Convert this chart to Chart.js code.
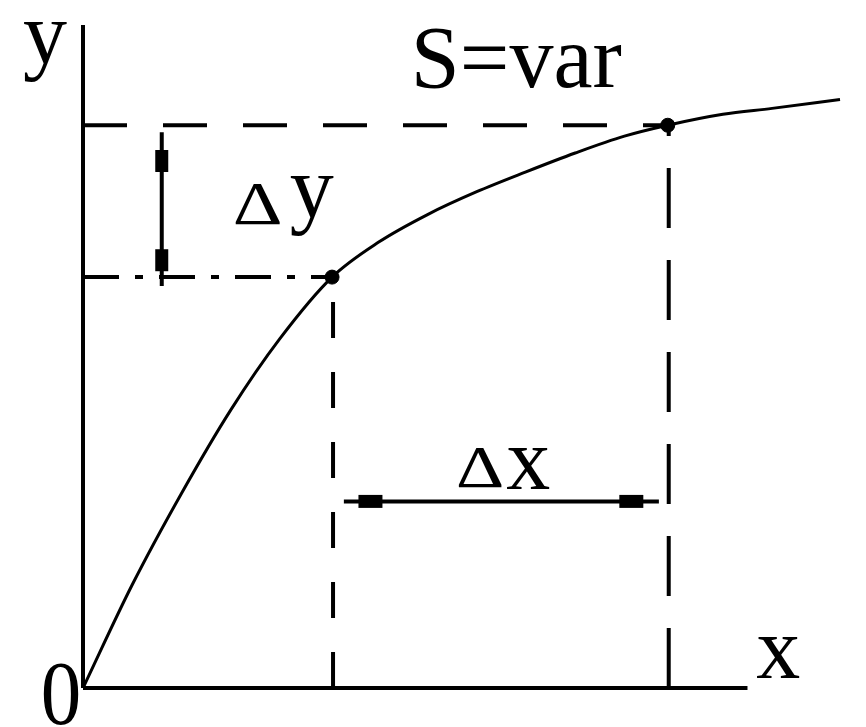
<!DOCTYPE html>
<html>
<head>
<meta charset="utf-8">
<script src="https://cdn.jsdelivr.net/npm/chart.js@4"></script>
<style>
  body { margin: 0; background: #fff; }
</style>
</head>
<body>
<canvas id="grafico" width="866" height="727"></canvas>
<script>
// Curva S=var
const curvaX = [0, 50, 100, 150, 200, 253, 300, 350, 400, 450, 500, 550, 594, 650, 700, 769];
const curvaY = [0, 104, 196, 280, 352, 414, 449, 477, 500, 520, 539, 556, 567, 578, 584, 593];

// Puntos marcados sobre la curva
const puntosX = [253, 594];
const puntosY = [414, 567];

// Ejes
const ejeXx = [0, 675];
const ejeXy = [0, 0];
const ejeYx = [0, 0];
const ejeYy = [0, 668];

// Líneas auxiliares
const guiaSupX = [0, 594];
const guiaSupY = [567, 567];
const guiaInfX = [0, 253];
const guiaInfY = [414, 414];
const guiaV1X = [254, 254];
const guiaV1Y = [0, 414];
const guiaV2X = [595, 595];
const guiaV2Y = [0, 567];

// Cotas Δy y Δx
const cotaYx = [80, 80];
const cotaYy = [560, 405];
const marcasYy = [531, 431];
const cotaXx = [265, 585];
const cotaXy = [188, 188];
const marcasXx = [292, 557];

// Textos
const textos = ['y', 'S=var', 'x', '0', 'Δ', 'y', 'Δ', 'x'];
const textosX = [-61, 333, 684, -43, 152, 210, 379, 430];
const textosY = [630, 606, 10, -36, 468, 475, 203, 201];
const textosT = [88, 88, 88, 90, 62, 88, 60, 88];
const textosE = [1, 1, 1, 0.9, 1.25, 1, 1.25, 1];

function puntos(xs, ys) {
    return xs.map((x, i) => ({ x: x, y: ys[i] }));
}

function linea(xs, ys, ancho, guiones) {
    return {
        data: puntos(xs, ys),
        showLine: true,
        borderColor: '#000',
        borderWidth: ancho,
        borderDash: guiones || [],
        pointRadius: 0,
        clip: false
    };
}

function marcas(xs, ys, giro, radio) {
    return {
        data: puntos(xs, ys),
        showLine: false,
        pointStyle: 'line',
        pointRotation: giro,
        pointRadius: radio,
        pointBorderWidth: 13,
        pointBorderColor: '#000',
        pointBackgroundColor: '#000',
        clip: false
    };
}

const curva = linea(curvaX, curvaY, 3);
curva.cubicInterpolationMode = 'monotone';

const puntosCurva = {
    data: puntos(puntosX, puntosY),
    showLine: false,
    pointRadius: 7,
    pointBackgroundColor: '#000',
    pointBorderColor: '#000',
    clip: false
};

// Fondo blanco y textos
const fondo = {
    id: 'fondo',
    beforeDraw(chart) {
        const c = chart.ctx;
        c.save();
        c.fillStyle = '#fff';
        c.fillRect(0, 0, chart.width, chart.height);
        c.restore();
    }
};

const rotulos = {
    id: 'rotulos',
    afterDatasetsDraw(chart) {
        const c = chart.ctx;
        const sx = chart.scales.x;
        const sy = chart.scales.y;
        c.save();
        c.fillStyle = '#000';
        c.textBaseline = 'alphabetic';
        c.textAlign = 'left';
        textos.forEach((t, i) => {
            c.save();
            c.font = textosT[i] + 'px "Liberation Serif", "DejaVu Serif", serif';
            c.translate(sx.getPixelForValue(textosX[i]), sy.getPixelForValue(textosY[i]));
            c.scale(textosE[i], 1);
            c.fillText(t, 0, 0);
            c.restore();
        });
        c.restore();
    }
};

const ctx = document.getElementById('grafico').getContext('2d');
const grafico = new Chart(ctx, {
    type: 'scatter',
    data: {
        datasets: [
            linea(ejeXx, ejeXy, 4),
            linea(ejeYx, ejeYy, 4),
            linea(guiaSupX, guiaSupY, 4, [44, 36]),
            linea(guiaInfX, guiaInfY, 4, [36, 16, 8, 16]),
            linea(guiaV1X, guiaV1Y, 4, [36, 34]),
            linea(guiaV2X, guiaV2Y, 4, [60, 32]),
            linea(cotaYx, cotaYy, 4),
            marcas(cotaYx, marcasYy, 90, 11),
            linea(cotaXx, cotaXy, 4),
            marcas(marcasXx, cotaXy, 0, 12),
            curva,
            puntosCurva
        ]
    },
    options: {
        responsive: false,
        animation: false,
        layout: { padding: { left: 83, right: 13, top: 20, bottom: 39 } },
        plugins: {
            legend: { display: false },
            tooltip: { enabled: false }
        },
        scales: {
            x: { type: 'linear', min: 0, max: 770, display: false },
            y: { type: 'linear', min: 0, max: 668, display: false }
        }
    },
    plugins: [fondo, rotulos]
});
</script>
</body>
</html>
